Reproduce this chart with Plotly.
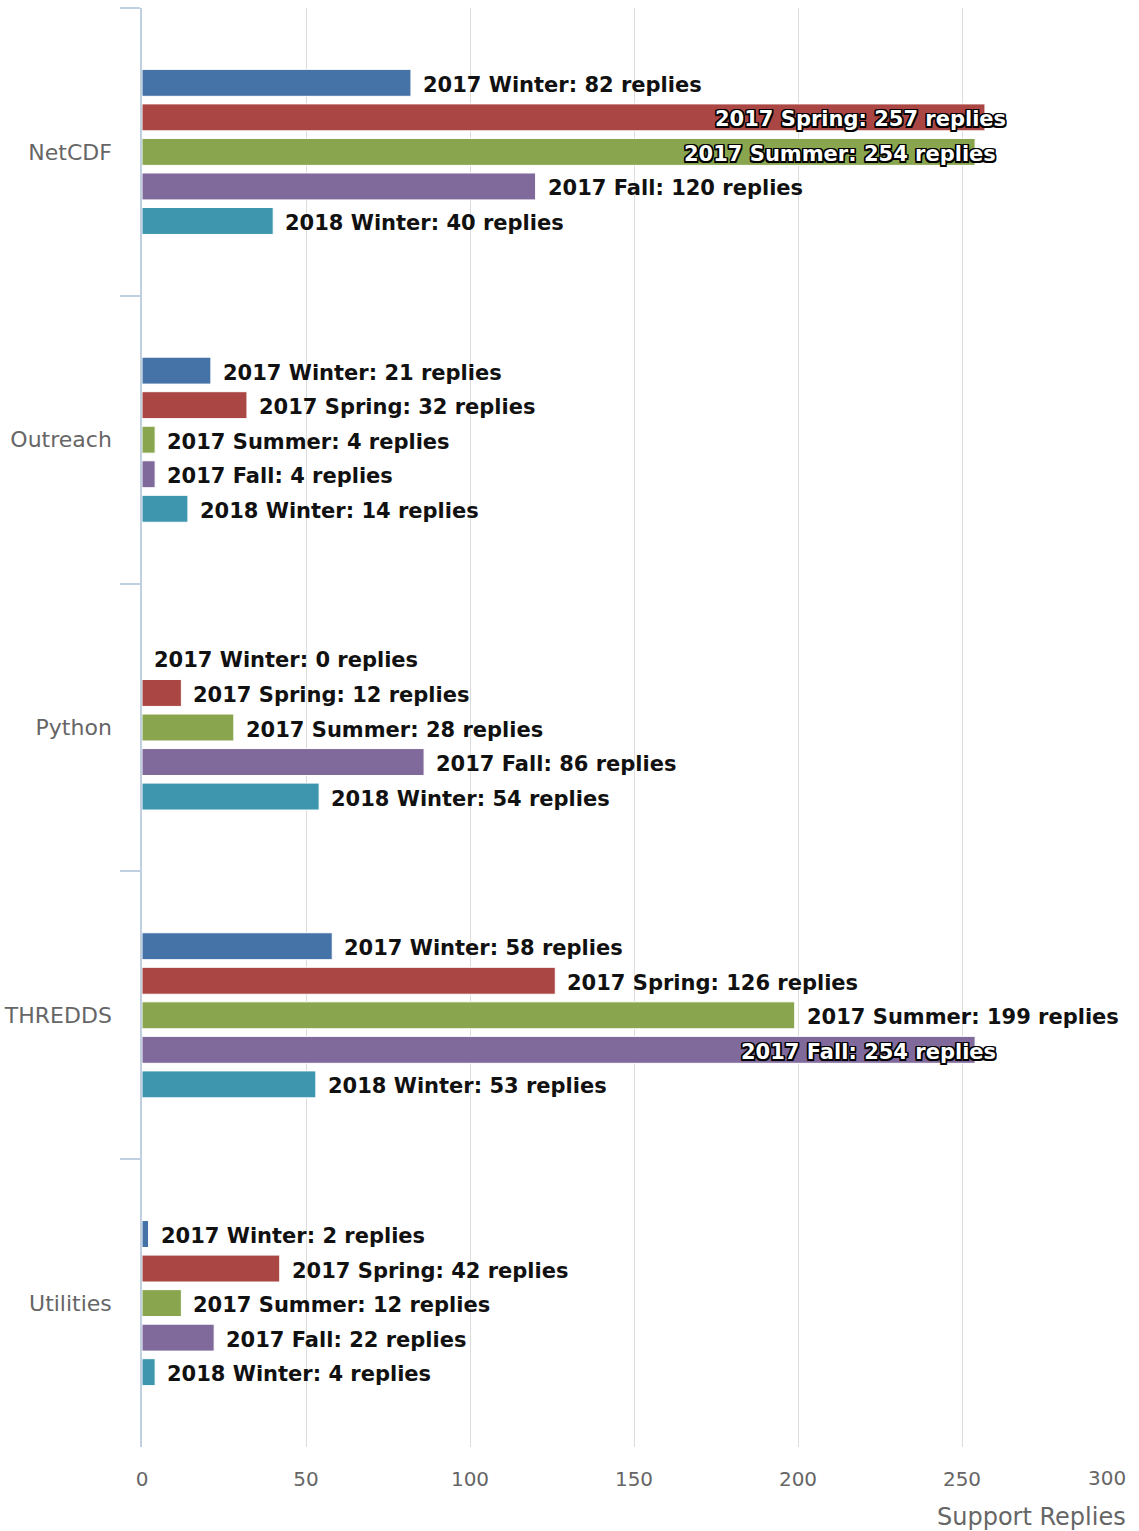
import plotly.graph_objects as go

categories = ["NetCDF", "Outreach", "Python", "THREDDS", "Utilities"]
series_names = ["2017 Winter", "2017 Spring", "2017 Summer", "2017 Fall", "2018 Winter"]
winter17 = [82, 21, 0, 58, 2]
spring17 = [257, 32, 12, 126, 42]
summer17 = [254, 4, 28, 199, 12]
fall17 = [120, 4, 86, 254, 22]
winter18 = [40, 14, 54, 53, 4]
series_values = [winter17, spring17, summer17, fall17, winter18]
colors = ["#4572A7", "#AA4643", "#89A54E", "#80699B", "#3D96AE"]
x_ticks = [0, 50, 100, 150, 200, 250, 300]
x_title = "Support Replies"

W, H = 1139, 1531
ML, MR, MT, MB = 142, 13, 8, 84
BARGAP = 0.40
XMAX = 300

plot_w = W - ML - MR
plot_h = H - MT - MB
band = plot_h / len(categories)
slot = band * (1 - BARGAP) / len(series_names)
px_per_unit = plot_w / XMAX

fig = go.Figure()
for name, vals, col in zip(series_names, series_values, colors):
    fig.add_trace(go.Bar(
        y=categories, x=vals, name=name, orientation="h",
        marker=dict(color=col, line=dict(color="white", width=1)),
        hoverinfo="skip",
    ))

outline = ", ".join(f"{dx}px {dy}px 0 #000" for dx, dy in
                    [(-1.5, -1.5), (1.5, -1.5), (-1.5, 1.5), (1.5, 1.5),
                     (0, 1.5), (0, -1.5), (1.5, 0), (-1.5, 0)])

annotations = []
n = len(series_names)
for i, (name, vals) in enumerate(zip(series_names, series_values)):
    for cat, v in zip(categories, vals):
        text = f"{name}: {v} replies"
        est_w = len(text) * 12.5
        fits = v * px_per_unit + 12 + est_w <= plot_w
        ysh = (n // 2 - i) * slot - 2
        if fits:
            annotations.append(dict(
                x=v, y=cat, xref="x", yref="y", text=f"<b>{text}</b>",
                showarrow=False, xanchor="left", yanchor="middle",
                xshift=10, yshift=ysh,
                font=dict(family="DejaVu Sans", size=21, color="#111111"),
            ))
        else:
            annotations.append(dict(
                x=v, y=cat, xref="x", yref="y", text=f"<b>{text}</b>",
                showarrow=False, xanchor="right", yanchor="middle",
                xshift=23, yshift=ysh,
                font=dict(family="DejaVu Sans", size=21, color="#ffffff",
                          shadow=outline),
            ))

# last x tick label is justified inside the chart edge (as in the original)
tick_text = [str(t) for t in x_ticks]
last_label = tick_text[-1]
tick_text[-1] = ""
annotations.append(dict(
    x=x_ticks[-1], y=0, xref="x", yref="paper", text=last_label, showarrow=False,
    xanchor="right", yanchor="middle", xshift=2, yshift=-31,
    font=dict(family="DejaVu Sans", size=20, color="#666666"),
))

annotations.append(dict(
    x=1, y=0, xref="paper", yref="paper", text=x_title, showarrow=False,
    xanchor="right", yanchor="middle", xshift=2, yshift=-70,
    font=dict(family="DejaVu Sans", size=24, color="#666666"),
))

fig.update_layout(
    width=W, height=H,
    margin=dict(l=ML, r=MR, t=MT, b=MB, autoexpand=False),
    barmode="group", bargap=BARGAP, bargroupgap=0.22,
    plot_bgcolor="white", paper_bgcolor="white",
    showlegend=False,
    annotations=annotations,
    font=dict(family="DejaVu Sans"),
    xaxis=dict(
        range=[0, XMAX], tickvals=x_ticks, ticktext=tick_text,
        showgrid=True, gridcolor="#DCDCDC", gridwidth=1,
        zeroline=False, showline=False, ticks="",
        tickfont=dict(family="DejaVu Sans", size=20, color="#666666"),
        ticklabelstandoff=18, automargin=False,
    ),
    yaxis=dict(
        autorange="reversed", type="category",
        showgrid=False, zeroline=False,
        showline=True, linecolor="#C0D0E0", linewidth=1.5,
        ticks="outside", tickson="boundaries", ticklen=20,
        tickcolor="#C0D0E0", tickwidth=1.5,
        tickfont=dict(family="DejaVu Sans", size=22, color="#666666"),
        ticklabelstandoff=24, automargin=False,
    ),
)

fig.write_html("out.html", config={"displayModeBar": False},
               post_script="document.body.style.margin='0';document.body.style.overflow='hidden';")
